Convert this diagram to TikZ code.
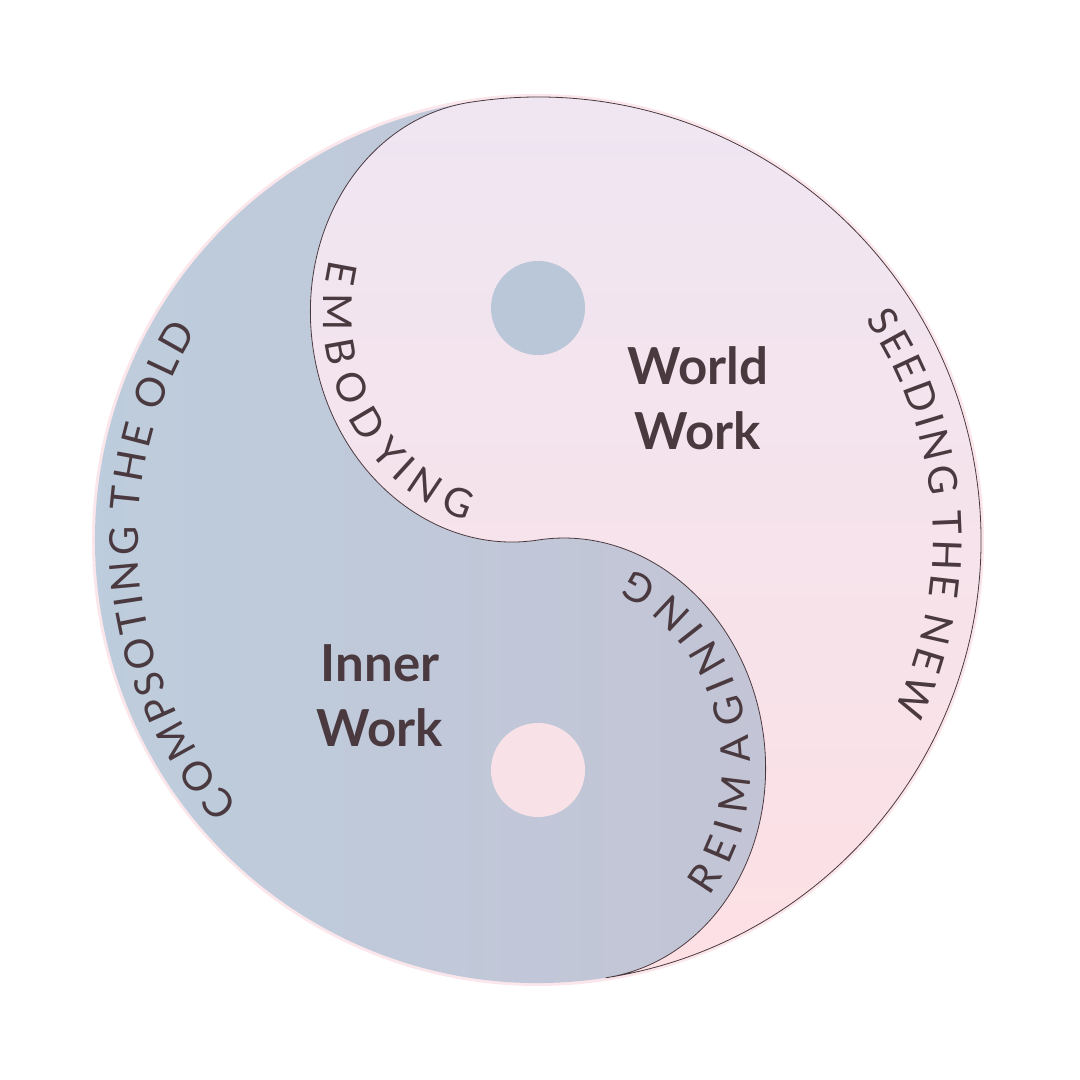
\documentclass[tikz,border=0pt]{standalone}
\usepackage{fontspec}
\setmainfont{Lato}
\usetikzlibrary{decorations.text}
\definecolor{inkbrown}{HTML}{4A3A40}
\definecolor{rimpink}{HTML}{FBE7EB}
\definecolor{innerleft}{HTML}{BDCDDD}
\definecolor{innerright}{HTML}{C3C4D5}
\definecolor{worldtop}{HTML}{EEE6F3}
\definecolor{worldbottom}{HTML}{FDE0E4}
\definecolor{eyeblue}{HTML}{B9C7D8}
\definecolor{eyepink}{HTML}{F8E2E8}
\tikzset{
    inner side/.style={
        left color=innerleft,
        right color=innerright,
    },
    world side/.style={
        top color=worldtop,
        bottom color=worldbottom,
    },
    outline/.style={
        draw=inkbrown,
        line width=0.8pt,
    },
    eye/.style={
        circle,
        minimum size=94pt,
        inner sep=0,
    },
    work label/.style={
        text=inkbrown,
        font=\bfseries\fontsize{51}{65}\selectfont,
        align=center,
    },
    ring text/.style={
        decoration={
            text effects along path,
            text={#1},
            text effects/.cd,
                fit text to path,
                characters={text along path, text=inkbrown,
                    font=\fontsize{40}{40}\selectfont},
        },
        decorate,
    },
}

\begin{document}
\begin{tikzpicture}[x=1pt, y=1pt]
    \useasboundingbox (0,0) rectangle (1080,1080);
    \fill[white] (0,0) rectangle (1080,1080);

    \coordinate (centre) at (538,540);
    \newcommand\sline{
        arc[start angle=-90, end angle=90, x radius=193, y radius=221.5]
        arc[start angle=270, end angle=90, x radius=193, y radius=221.5]
    }

    % soft rim under the disc
    \fill[rimpink] (centre) circle[radius=446];

    \begin{scope}[shift={(centre)}, rotate=8.8]
        \coordinate (top) at (0,443);
        \shade[inner side] (top) arc[start angle=90, end angle=270, radius=443] \sline -- cycle;
        \shade[world side] (top) arc[start angle=90, end angle=-90, radius=443] \sline -- cycle;
        \draw[outline] (top) arc[start angle=90, end angle=-90, radius=443] \sline;

        % texts along the S curve
        \begin{scope}[shift={(0,221.5)}]
            \path[ring text=EMBODYING] ({180*cos(155)},{206*sin(155)})
                arc[start angle=155, end angle=248, x radius=180, y radius=206];
        \end{scope}
        \begin{scope}[shift={(0,-221.5)}]
            \path[ring text=REIMAGINING] ({178*cos(-50)},{205*sin(-50)})
                arc[start angle=-50, end angle=60, x radius=178, y radius=205];
        \end{scope}
    \end{scope}

    \node[eye, fill=eyeblue] (upper eye) at (538,772) {};
    \node[eye, fill=eyepink] (lower eye) at (538,310) {};

    \node[work label] (world) at (698,682) {World\\Work};
    \node[work label] (inner) at (380,384) {Inner\\Work};

    % texts along the rim
    \begin{scope}[shift={(centre)}]
        \path[ring text=COMPSOTING THE OLD] (221.5:400)
            arc[start angle=221.5, end angle=148.5, radius=400];
        \path[ring text=SEEDING THE NEW] (34:395)
            arc[start angle=34, end angle=-25.5, radius=395];
    \end{scope}
\end{tikzpicture}
\end{document}
